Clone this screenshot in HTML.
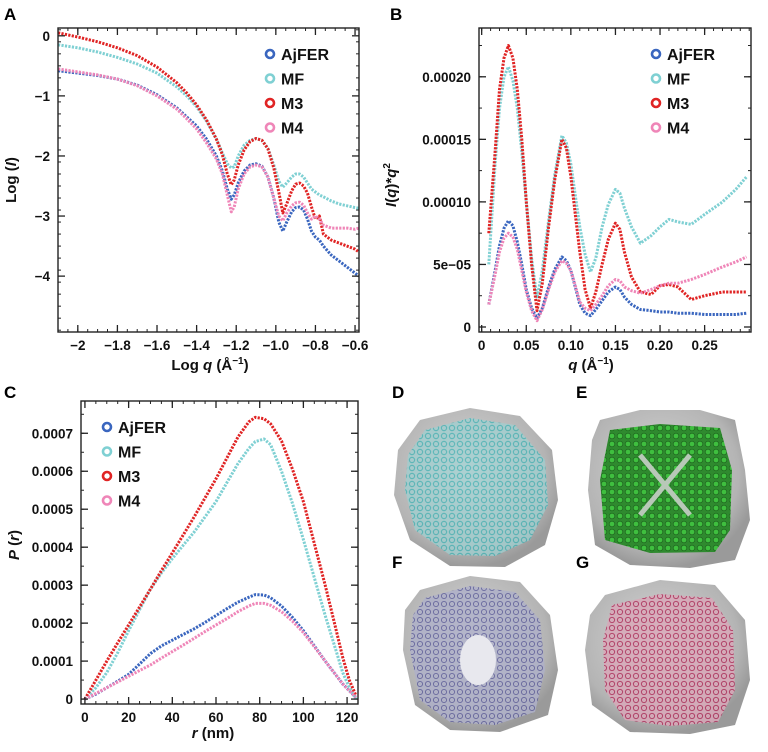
<!DOCTYPE html>
<html><head><meta charset="utf-8">
<style>
html,body{margin:0;padding:0;background:#fff;}
svg{display:block;font-family:"Liberation Sans",sans-serif;}
.tick{font-size:13.5px;font-weight:bold;fill:#111;}
.lab{font-size:15px;font-weight:bold;fill:#111;}
.leg{font-size:16px;font-weight:bold;fill:#111;}
.pl{font-size:17px;font-weight:bold;fill:#000;}
</style></head>
<body>
<svg id="fig" width="768" height="752" viewBox="0 0 768 752" xmlns="http://www.w3.org/2000/svg">
<defs>
<radialGradient id="gg" cx="45%" cy="40%" r="60%"><stop offset="0" stop-color="#d6d6d6"/><stop offset="0.8" stop-color="#b4b4b4"/><stop offset="1" stop-color="#9a9a9a"/></radialGradient>
<pattern id="pD" width="8" height="8" patternUnits="userSpaceOnUse"><rect width="8" height="8" fill="#9fcfd0"/><circle cx="4" cy="4" r="2.6" fill="none" stroke="#3fb3b5" stroke-width="1.2"/></pattern>
<pattern id="pE" width="8" height="8" patternUnits="userSpaceOnUse"><rect width="8" height="8" fill="#2f8a2f"/><circle cx="4" cy="4" r="2.8" fill="#3fbf3f" stroke="#1f6a1f" stroke-width="0.8"/></pattern>
<pattern id="pF" width="8" height="8" patternUnits="userSpaceOnUse"><rect width="8" height="8" fill="#aeb0c8"/><circle cx="4" cy="4" r="2.6" fill="none" stroke="#5a5a98" stroke-width="0.9"/></pattern>
<pattern id="pG" width="8" height="8" patternUnits="userSpaceOnUse"><rect width="8" height="8" fill="#d8a8b8"/><circle cx="4" cy="4" r="2.6" fill="none" stroke="#b0305c" stroke-width="1"/></pattern>
</defs>
<g id="gA"></g>
<g id="gB"></g>
<g id="gC"></g>

<text class="pl" x="4" y="20">A</text>
<text class="pl" x="390" y="20">B</text>
<text class="pl" x="4" y="398">C</text>

<g>
<text class="pl" x="392" y="398">D</text>
<polygon points="420,420 470,408 520,416 552,450 558,500 545,545 505,567 450,566 410,540 394,495 398,450" fill="url(#gg)"/>
<polygon points="425,430 470,418 515,425 545,460 548,505 530,540 495,556 450,555 415,530 405,490 408,455" fill="url(#pD)" opacity="0.75"/>
</g>
<g>
<text class="pl" x="576" y="398">E</text>
<polygon points="600,420 640,410 700,410 735,420 745,470 750,520 735,560 690,568 630,565 595,545 588,490 592,440" fill="url(#gg)"/>
<polygon points="610,430 660,424 720,428 732,470 730,530 715,552 650,553 605,540 600,480" fill="url(#pE)"/>
<path d="M640,455 L690,515 M690,455 L640,515" stroke="#b8c8b8" stroke-width="5"/>
</g>
<g>
<text class="pl" x="392" y="568">F</text>
<polygon points="420,590 470,576 520,582 550,615 558,670 548,715 500,732 450,730 415,705 403,650 405,610" fill="url(#gg)"/>
<polygon points="425,598 470,586 515,592 540,620 545,670 535,712 495,725 450,722 420,700 410,650 413,615" fill="url(#pF)" opacity="0.85"/>
<ellipse cx="478" cy="660" rx="18" ry="25" fill="#e8e8ee"/>
</g>
<g>
<text class="pl" x="576" y="568">G</text>
<polygon points="605,595 660,580 715,585 745,620 750,680 735,725 690,734 630,732 592,705 585,650 590,615" fill="url(#gg)"/>
<polygon points="612,605 660,594 712,598 733,630 735,690 718,722 670,726 625,720 605,690 603,640" fill="url(#pG)" opacity="0.85"/>
</g>
</svg>
<script>
// ---------- Data ----------
const seriesNames = ["AjFER","MF","M3","M4"];
const seriesColors = ["#3a66bf","#7fd0d3","#e02424","#ef86b8"];

// Panel A: Log q vs Log I
const qA = [-2.1,-2.0,-1.9,-1.8,-1.7,-1.6,-1.5,-1.45,-1.4,-1.35,-1.3,-1.27,-1.245,-1.225,-1.21,-1.19,-1.16,-1.13,-1.1,-1.07,-1.04,-1.01,-0.985,-0.965,-0.945,-0.92,-0.9,-0.88,-0.86,-0.84,-0.82,-0.8,-0.78,-0.76,-0.72,-0.68,-0.64,-0.6,-0.58];
const aAjFER = [-0.58,-0.62,-0.66,-0.72,-0.82,-0.98,-1.2,-1.35,-1.5,-1.72,-2.0,-2.25,-2.55,-2.72,-2.65,-2.45,-2.25,-2.15,-2.13,-2.17,-2.35,-2.7,-3.1,-3.25,-3.1,-2.93,-2.86,-2.85,-2.9,-3.05,-3.25,-3.35,-3.4,-3.5,-3.65,-3.75,-3.85,-3.95,-4.0];
const aMF = [-0.15,-0.2,-0.27,-0.36,-0.47,-0.62,-0.85,-1.0,-1.18,-1.42,-1.72,-1.95,-2.13,-2.2,-2.18,-2.0,-1.82,-1.74,-1.71,-1.74,-1.87,-2.15,-2.42,-2.52,-2.45,-2.35,-2.3,-2.3,-2.35,-2.45,-2.55,-2.6,-2.65,-2.68,-2.75,-2.8,-2.83,-2.86,-2.87];
const aM3 = [0.05,-0.02,-0.1,-0.2,-0.33,-0.52,-0.78,-0.95,-1.15,-1.4,-1.72,-1.98,-2.3,-2.48,-2.4,-2.15,-1.9,-1.76,-1.71,-1.74,-1.88,-2.2,-2.6,-2.95,-2.8,-2.58,-2.47,-2.45,-2.5,-2.62,-2.85,-3.05,-3.0,-3.3,-3.4,-3.45,-3.5,-3.55,-3.6];
const aM4 = [-0.55,-0.6,-0.65,-0.72,-0.83,-1.0,-1.22,-1.38,-1.55,-1.78,-2.05,-2.3,-2.65,-2.93,-2.85,-2.55,-2.3,-2.18,-2.15,-2.18,-2.35,-2.7,-3.0,-3.08,-2.95,-2.83,-2.78,-2.77,-2.82,-2.95,-3.05,-3.0,-3.05,-3.15,-3.2,-3.2,-3.2,-3.22,-3.2];
const ticksAx = [-2,-1.8,-1.6,-1.4,-1.2,-1.0,-0.8,-0.6];
const tickLabAx = ["\u22122","\u22121.8","\u22121.6","\u22121.4","\u22121.2","\u22121.0","\u22120.8","\u22120.6"];
const ticksAy = [0,-1,-2,-3,-4];
const tickLabAy = ["0","\u22121","\u22122","\u22123","\u22124"];

// Panel B: q vs I*q^2
const qB = [0.008,0.015,0.02,0.025,0.03,0.035,0.04,0.045,0.05,0.056,0.062,0.068,0.075,0.082,0.09,0.095,0.1,0.105,0.11,0.116,0.122,0.128,0.135,0.142,0.15,0.155,0.16,0.168,0.178,0.19,0.2,0.21,0.22,0.235,0.25,0.27,0.285,0.297];
const bAjFER = [1.8e-5,4.5e-5,6.5e-5,7.9e-5,8.5e-5,8.1e-5,6.8e-5,5e-5,3e-5,1.5e-5,7e-6,1.5e-5,3.2e-5,4.6e-5,5.6e-5,5.3e-5,4.5e-5,3.2e-5,1.8e-5,1.1e-5,9e-6,1.4e-5,2.1e-5,2.8e-5,3.2e-5,3e-5,2.4e-5,1.8e-5,1.4e-5,1.3e-5,1.2e-5,1.2e-5,1.1e-5,1.1e-5,1e-5,1e-5,1e-5,1.1e-5];
const bMF = [5e-5,1.3e-4,1.75e-4,2e-4,2.08e-4,1.97e-4,1.75e-4,1.4e-4,1.0e-4,5.5e-5,2.3e-5,4.5e-5,8.5e-5,1.22e-4,1.53e-4,1.47e-4,1.3e-4,1.05e-4,8e-5,5.8e-5,4.4e-5,5.5e-5,8e-5,9.8e-5,1.1e-4,1.07e-4,9.5e-5,8e-5,6.7e-5,7.3e-5,8e-5,8.6e-5,8.4e-5,8.2e-5,9e-5,1.0e-4,1.1e-4,1.2e-4];
const bM3 = [7.5e-5,1.4e-4,1.9e-4,2.15e-4,2.25e-4,2.15e-4,1.9e-4,1.5e-4,1.0e-4,5e-5,1.3e-5,3.5e-5,8e-5,1.18e-4,1.5e-4,1.43e-4,1.2e-4,9e-5,6e-5,3e-5,1.5e-5,2.8e-5,5e-5,7e-5,8.3e-5,7.8e-5,6e-5,4e-5,2.8e-5,2.6e-5,3.3e-5,3.4e-5,3.2e-5,2.2e-5,2.5e-5,2.8e-5,2.8e-5,2.8e-5];
const bM4 = [1.8e-5,4.2e-5,6e-5,7.1e-5,7.5e-5,7.2e-5,6.2e-5,4.5e-5,2.8e-5,1.3e-5,5e-6,1.4e-5,3e-5,4.4e-5,5.3e-5,5.1e-5,4.5e-5,3.3e-5,2e-5,1.5e-5,1.3e-5,1.8e-5,2.5e-5,3.3e-5,3.8e-5,3.7e-5,3.2e-5,2.9e-5,2.7e-5,3e-5,3.3e-5,3.5e-5,3.5e-5,3.8e-5,4.2e-5,4.8e-5,5.2e-5,5.6e-5];
const ticksBx = [0,0.05,0.10,0.15,0.20,0.25];
const tickLabBx = ["0","0.05","0.10","0.15","0.20","0.25"];
const ticksBy = [0,5e-5,1e-4,1.5e-4,2e-4];
const tickLabBy = ["0","5e\u221205","0.00010","0.00015","0.00020"];

// Panel C: r vs P(r)
const rC = [0,5,10,15,20,25,30,35,40,45,50,55,60,65,70,75,78,82,85,90,95,100,105,110,114,118,121,124];
const cAjFER = [0,1.3e-5,3e-5,4.7e-5,6.5e-5,9.2e-5,1.2e-4,1.4e-4,1.55e-4,1.7e-4,1.85e-4,2.02e-4,2.2e-4,2.38e-4,2.55e-4,2.68e-4,2.75e-4,2.74e-4,2.67e-4,2.45e-4,2.15e-4,1.8e-4,1.4e-4,1.0e-4,7e-5,4e-5,2.2e-5,5e-6];
const cMF = [0,3e-5,7e-5,1.22e-4,1.8e-4,2.35e-4,2.9e-4,3.32e-4,3.7e-4,4.05e-4,4.4e-4,4.8e-4,5.2e-4,5.7e-4,6.2e-4,6.6e-4,6.78e-4,6.85e-4,6.7e-4,6.0e-4,5.15e-4,4.2e-4,3.2e-4,2.2e-4,1.45e-4,7e-5,3e-5,0];
const cM3 = [0,5e-5,1e-4,1.48e-4,1.95e-4,2.42e-4,2.9e-4,3.38e-4,3.85e-4,4.32e-4,4.8e-4,5.3e-4,5.8e-4,6.35e-4,6.9e-4,7.3e-4,7.42e-4,7.38e-4,7.25e-4,6.8e-4,6.05e-4,5.2e-4,4.1e-4,3.0e-4,2.05e-4,1.1e-4,5e-5,1e-5];
const cM4 = [0,1.5e-5,3e-5,4.5e-5,6e-5,7.5e-5,9e-5,1.08e-4,1.25e-4,1.42e-4,1.6e-4,1.78e-4,1.95e-4,2.12e-4,2.3e-4,2.45e-4,2.52e-4,2.52e-4,2.47e-4,2.3e-4,2.05e-4,1.75e-4,1.38e-4,1.0e-4,7e-5,4e-5,2.2e-5,5e-6];
const ticksCx = [0,20,40,60,80,100,120];
const tickLabCx = ["0","20","40","60","80","100","120"];
const ticksCy = [0,1e-4,2e-4,3e-4,4e-4,5e-4,6e-4,7e-4];
const tickLabCy = ["0","0.0001","0.0002","0.0003","0.0004","0.0005","0.0006","0.0007"];

// ---------- Drawing ----------
const NS = "http://www.w3.org/2000/svg";
function mk(tag, parent, attrs){
  const e = document.createElementNS(NS, tag);
  for (const k in attrs) e.setAttribute(k, attrs[k]);
  parent.appendChild(e);
  return e;
}
function scale(d0,d1,r0,r1){ return v => r0 + (v-d0)/(d1-d0)*(r1-r0); }

function panel(g, box, xd, yd, xt, xtl, yt, ytl, xminor, yminor, xs, ysList, legPos, xTitle, yTitle, xTitlePos, yTitlePos){
  const sx = scale(xd[0], xd[1], box.x0, box.x1);
  const sy = scale(yd[0], yd[1], box.y1, box.y0);
  for (let s = 0; s < ysList.length; s++){
    const ys = ysList[s];
    let pts = [];
    for (let i = 0; i < xs.length; i++) pts.push(sx(xs[i]).toFixed(1) + "," + sy(ys[i]).toFixed(1));
    const pl = mk("polyline", g, {points: pts.join(" "), fill: "none", stroke: seriesColors[s], "stroke-width": 3, "stroke-dasharray": "2.2 1.3", "stroke-linejoin": "round"});
    
    
  }
  const fr = mk("rect", g, {x: box.x0, y: box.y0, width: box.x1-box.x0, height: box.y1-box.y0, fill: "none", stroke: "#222", "stroke-width": 1.4});
  
  
  for (let v = xminor[0]; v <= xminor[1] + 1e-9; v += xminor[2]){
    const x = sx(v); if (x < box.x0 || x > box.x1) continue;
    mk("line", g, {x1: x, x2: x, y1: box.y1, y2: box.y1-3, stroke: "#222"});
    mk("line", g, {x1: x, x2: x, y1: box.y0, y2: box.y0+3, stroke: "#222"});
  }
  for (let v = yminor[0]; v <= yminor[1] + 1e-12; v += yminor[2]){
    const y = sy(v); if (y < box.y0 || y > box.y1) continue;
    mk("line", g, {x1: box.x0, x2: box.x0+3, y1: y, y2: y, stroke: "#222"});
    mk("line", g, {x1: box.x1, x2: box.x1-3, y1: y, y2: y, stroke: "#222"});
  }
  for (let i = 0; i < xt.length; i++){
    const x = sx(xt[i]);
    mk("line", g, {x1: x, x2: x, y1: box.y1, y2: box.y1-7, stroke: "#222", "stroke-width": 1.3});
    mk("line", g, {x1: x, x2: x, y1: box.y0, y2: box.y0+7, stroke: "#222", "stroke-width": 1.3});
    const t = mk("text", g, {x: x, y: box.y1 + 18, "text-anchor": "middle", class: "tick"});
    t.textContent = xtl[i];
    
    
  }
  for (let i = 0; i < yt.length; i++){
    const y = sy(yt[i]);
    mk("line", g, {x1: box.x0, x2: box.x0+7, y1: y, y2: y, stroke: "#222", "stroke-width": 1.3});
    mk("line", g, {x1: box.x1, x2: box.x1-7, y1: y, y2: y, stroke: "#222", "stroke-width": 1.3});
    const t = mk("text", g, {x: box.x0 - 8, y: y + 5, "text-anchor": "end", class: "tick"});
    t.textContent = ytl[i];
    
    
  }
  for (let s = 0; s < seriesNames.length; s++){
    const ly = legPos.y + s*24.5;
    const c = mk("circle", g, {cx: legPos.x, cy: ly, r: 4, fill: "none", stroke: seriesColors[s], "stroke-width": 2.6});
    
    
    const t = mk("text", g, {x: legPos.x + 11, y: ly + 6, class: "leg"});
    t.textContent = seriesNames[s];
    
    
  }
  const xtT = mk("text", g, {x: xTitlePos[0], y: xTitlePos[1], "text-anchor": "middle", class: "lab"});
  xtT.innerHTML = xTitle;
  
  
  const ytT = mk("text", g, {x: 0, y: 0, "text-anchor": "middle", class: "lab", transform: "translate(" + yTitlePos[0] + "," + yTitlePos[1] + ") rotate(-90)"});
  ytT.innerHTML = yTitle;
  
  
}

panel(document.getElementById("gA"), {x0:58, x1:359, y0:28, y1:332}, [-2.1,-0.58], [-4.93,0.13],
  ticksAx, tickLabAx, ticksAy, tickLabAy, [-2.1,-0.58,0.05], [-4.9,0.1,0.2],
  qA, [aAjFER, aMF, aM3, aM4], {x:270, y:54},
  'Log <tspan font-style="italic">q</tspan> (Å<tspan font-size="10" dy="-6">−1</tspan><tspan dy="6">)</tspan>',
  'Log (<tspan font-style="italic">I</tspan>)', [210, 370], [16, 180]);

panel(document.getElementById("gB"), {x0:479, x1:751, y0:28, y1:332}, [-0.003,0.302], [-4e-6,2.39e-4],
  ticksBx, tickLabBx, ticksBy, tickLabBy, [0,0.3,0.01], [0,2.4e-4,2.5e-5],
  qB, [bAjFER, bMF, bM3, bM4], {x:656, y:54},
  '<tspan font-style="italic">q</tspan> (Å<tspan font-size="10" dy="-6">−1</tspan><tspan dy="6">)</tspan>',
  '<tspan font-style="italic">I</tspan>(<tspan font-style="italic">q</tspan>)*<tspan font-style="italic">q</tspan><tspan font-size="10" dy="-6">2</tspan>', [591, 370], [396, 185]);

panel(document.getElementById("gC"), {x0:81, x1:358, y0:401, y1:704}, [-1.8,125], [-1.3e-5,7.85e-4],
  ticksCx, tickLabCx, ticksCy, tickLabCy, [0,125,5], [0,7.8e-4,5e-5],
  rC, [cAjFER, cMF, cM3, cM4], {x:107, y:427},
  '<tspan font-style="italic">r</tspan> (nm)',
  '<tspan font-style="italic">P</tspan> (<tspan font-style="italic">r</tspan>)', [213, 738], [19, 545]);
</script>
</body></html>
